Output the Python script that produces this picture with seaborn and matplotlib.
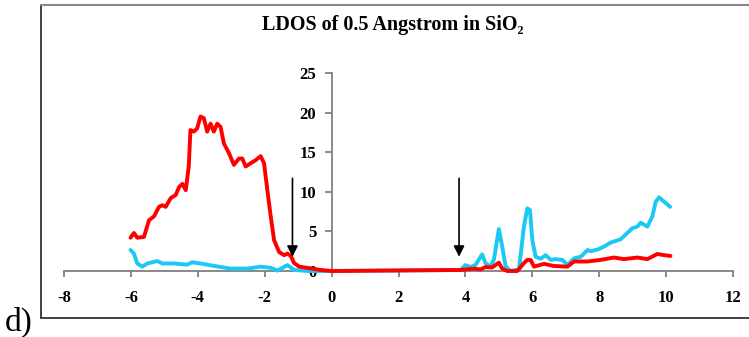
import matplotlib
matplotlib.use("Agg")
import matplotlib.pyplot as plt
from matplotlib.lines import Line2D
import numpy as np
import pandas as pd
import seaborn as sns

# ---------------- data ----------------
red_x = [-6.01, -5.91, -5.81, -5.61, -5.46, -5.31, -5.16, -5.06, -4.96, -4.81, -4.66, -4.56,
         -4.46, -4.36, -4.27, -4.22, -4.12, -4.02, -3.92, -3.82, -3.72, -3.62, -3.52, -3.42,
         -3.32, -3.22, -3.07, -2.92, -2.77, -2.67, -2.57, -2.42, -2.27, -2.12, -2.02, -1.92,
         -1.82, -1.72, -1.57, -1.42, -1.32, -1.22, -1.12, -0.97, -0.73, -0.33, 0.0,
         3.86, 4.25, 4.45, 4.6, 4.8, 5.0, 5.1, 5.25, 5.55, 5.75, 5.85, 5.95, 6.05, 6.35,
         6.65, 7.05, 7.25, 7.65, 8.04, 8.44, 8.74, 9.14, 9.44, 9.74, 9.94, 10.13]
red_y = [4.2, 4.8, 4.2, 4.3, 6.4, 6.9, 8.1, 8.3, 8.1, 9.2, 9.6, 10.6,
         11.0, 10.2, 13.2, 17.8, 17.6, 18.0, 19.5, 19.3, 17.6, 18.6, 17.6, 18.6,
         18.2, 16.1, 14.9, 13.4, 14.2, 14.2, 13.2, 13.6, 14.0, 14.5, 13.6, 10.2,
         6.9, 3.9, 2.4, 2.0, 2.2, 1.9, 1.0, 0.55, 0.4, 0.13, 0.0,
         0.13, 0.3, 0.2, 0.5, 0.45, 1.05, 0.3, 0.0, 0.0, 1.0, 1.4, 1.4, 0.55, 0.9,
         0.63, 0.55, 1.2, 1.2, 1.4, 1.7, 1.5, 1.7, 1.5, 2.15, 2.0, 1.9]

cyan_x = [-6.01, -5.91, -5.81, -5.66, -5.51, -5.21, -5.06, -4.71, -4.32, -4.17, -3.92,
          -3.52, -3.02, -2.52, -2.12, -1.82, -1.62, -1.32, -1.12, -0.72, 0.0,
          3.86, 4.0, 4.15, 4.3, 4.5, 4.6, 4.75, 4.85, 5.0, 5.1, 5.2, 5.35, 5.6, 5.75,
          5.85, 5.93, 6.0, 6.1, 6.25, 6.4, 6.55, 6.7, 6.9, 7.05, 7.25, 7.45, 7.65, 7.75,
          7.95, 8.15, 8.35, 8.64, 8.84, 8.99, 9.14, 9.24, 9.44, 9.59, 9.69, 9.79, 9.94, 10.12]
cyan_y = [2.65, 2.2, 0.95, 0.55, 0.95, 1.26, 0.95, 0.95, 0.8, 1.1, 0.95,
          0.65, 0.3, 0.3, 0.55, 0.4, 0.05, 0.75, 0.13, 0.0, 0.0,
          0.13, 0.75, 0.5, 0.75, 2.1, 1.0, 0.55, 1.4, 5.3, 3.1, 0.6, 0.0, 0.2, 5.6,
          7.9, 7.7, 3.9, 1.8, 1.55, 2.0, 1.4, 1.5, 1.4, 0.75, 1.6, 1.8, 2.65, 2.5,
          2.7, 3.1, 3.6, 4.0, 4.8, 5.4, 5.6, 6.1, 5.6, 6.9, 8.75, 9.3, 8.75, 8.1]

x_ticks = [-8, -6, -4, -2, 0, 2, 4, 6, 8, 10, 12]
y_ticks = [0, 5, 10, 15, 20, 25]
arrow_x = [-1.17, 3.81]
arrow_top = 11.7
arrow_tip = 1.8

title = "LDOS of 0.5 Angstrom in SiO₂"
panel_label = "d)"

# ---------------- plot ----------------
sns.set_style("white")
plt.rcParams["font.family"] = ["Liberation Serif", "DejaVu Serif"]
plt.rcParams["font.weight"] = "bold"
plt.rcParams["text.color"] = "black"
plt.rcParams["xtick.color"] = "#808080"
plt.rcParams["ytick.color"] = "#808080"
plt.rcParams["xtick.labelcolor"] = "black"
plt.rcParams["ytick.labelcolor"] = "black"
plt.rcParams["xtick.labelsize"] = 12
plt.rcParams["ytick.labelsize"] = 12

fig = plt.figure(figsize=(7.49, 3.37), dpi=100)
ax = fig.add_axes([64 / 749, 1 - 271 / 337, (733 - 64) / 749, (271 - 73) / 337])

cyan_df = pd.DataFrame({"x": cyan_x, "y": cyan_y})
red_df = pd.DataFrame({"x": red_x, "y": red_y})
sns.lineplot(data=cyan_df, x="x", y="y", ax=ax, sort=False, color="#1CC8F4",
             linewidth=2.8, clip_on=False, zorder=3)
sns.lineplot(data=red_df, x="x", y="y", ax=ax, sort=False, color="#FF0000",
             linewidth=2.8, clip_on=False, zorder=4)

for s in ["top", "right"]:
    ax.spines[s].set_visible(False)
ax.spines["left"].set_position(("data", 0))
ax.spines["bottom"].set_position(("data", 0))
for s in ["left", "bottom"]:
    ax.spines[s].set_color("#808080")
    ax.spines[s].set_linewidth(1.3)
ax.patch.set_alpha(0)

ax.set_xlim(-8, 12)
ax.set_ylim(0, 25)
ax.set_xlabel("")
ax.set_ylabel("")
ax.set_xticks(x_ticks)
ax.set_yticks(y_ticks)
ax.set_xticklabels([str(t) for t in x_ticks], fontweight="bold", fontsize=12)
ax.set_yticklabels([str(t) for t in y_ticks], fontweight="bold", fontsize=12)
ax.tick_params(axis="x", direction="out", length=4, width=1.3,
               pad=10, bottom=True)
ax.tick_params(axis="y", direction="out", length=5, width=1.3,
               pad=6, left=True)

for xa in arrow_x:
    ax.annotate("", xy=(xa, arrow_tip), xytext=(xa, arrow_top),
                arrowprops=dict(arrowstyle="-|>", color="black", lw=1.2,
                                mutation_scale=16, shrinkA=0, shrinkB=0),
                zorder=6)

fig.text(393 / 749, 1 - 25 / 337, title, ha="center", va="center",
         fontsize=14.5, fontweight="bold", color="black")
fig.text(5 / 749, 1 - 322 / 337, panel_label, ha="left", va="center", fontsize=24,
         fontweight="normal", color="black")

# outer frame
x0, y0, y1 = 41 / 749, 1 - 318 / 337, 1 - 5 / 337
fig.add_artist(Line2D([x0, x0], [y0, y1], color="#333333", lw=1.3))
fig.add_artist(Line2D([x0, 1.0], [y1, y1], color="#888888", lw=1.5))
fig.add_artist(Line2D([x0, 1.0], [y0, y0], color="#333333", lw=1.3))

fig.savefig("out.png", dpi=100)
